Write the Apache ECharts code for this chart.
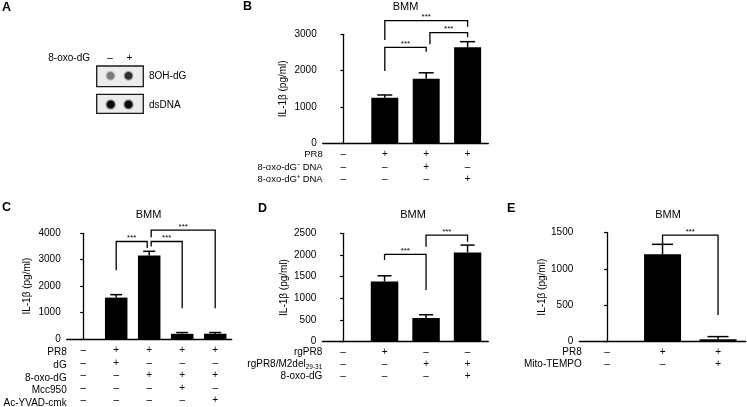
<!DOCTYPE html>
<html>
<head>
<meta charset="utf-8">
<script src="https://cdn.jsdelivr.net/npm/echarts@6/dist/echarts.min.js"></script>
<style>
  html, body { margin: 0; padding: 0; background: #fff; }
  #chart { width: 747px; height: 407px; }
</style>
</head>
<body>
<div id="chart"></div>
<script>
// panel B
const bGroups = ['1', '2', '3', '4']
const bRows = ['PR8', '8-oxo-dG⁻ DNA', '8-oxo-dG⁺ DNA']
const bSigns = [
  ['–', '+', '+', '+'],
  ['–', '–', '+', '–'],
  ['–', '–', '–', '+'],
]
const bMean = [0, 1255, 1778, 2642]
const bErr = [0, 75, 162, 155]
const bTicks = [0, 1000, 2000, 3000]
// [from, to, top, fromLow, toLow]
const bBrackets = [
  [1, 2, 2642, 1990, 2521],
  [2.09, 3, 3044, 2725, 2918],
  [1, 3, 3375, 2843, 3210],
]

// panel C
const cGroups = ['1', '2', '3', '4', '5']
const cRows = ['PR8', 'dG', '8-oxo-dG', 'Mcc950', 'Ac-YVAD-cmk']
const cSigns = [
  ['–', '+', '+', '+', '+'],
  ['–', '+', '–', '–', '–'],
  ['–', '–', '+', '+', '+'],
  ['–', '–', '–', '+', '–'],
  ['–', '–', '–', '–', '+'],
]
const cMean = [0, 1567, 3159, 196, 200]
const cErr = [0, 111, 160, 49, 45]
const cTicks = [0, 1000, 2000, 3000, 4000]
const cBrackets = [
  [1, 1.94, 3689, 2604, 3444],
  [2.06, 3, 3689, 3504, 1159],
  [2.06, 4, 4122, 3852, 1159],
]

// panel D
const dGroups = ['1', '2', '3', '4']
const dRows = ['rgPR8', '{t|rgPR8/M2del}{s|29-31}', '8-oxo-dG']
const dSigns = [
  ['–', '+', '–', '–'],
  ['–', '–', '+', '+'],
  ['–', '–', '–', '+'],
]
const dMean = [0, 1390, 546, 2060]
const dErr = [0, 130, 76, 168]
const dTicks = [0, 500, 1000, 1500, 2000, 2500]
const dBrackets = [
  [1, 2, 2014, 1882, 1191],
  [2, 3, 2459, 2189, 2304],
]

// panel E
const eGroups = ['1', '2', '3']
const eRows = ['PR8', 'Mito-TEMPO']
const eSigns = [
  ['–', '+', '+'],
  ['–', '–', '+'],
]
const eMean = [0, 1202, 33]
const eErr = [0, 138, 37]
const eTicks = [0, 500, 1000, 1500]
const eBrackets = [
  [1, 2, 1468, 1340, 367],
]

const FONT = '"Liberation Sans", Arial, Helvetica, sans-serif'
const INK = '#000'

const panels = [
  {
    groups: bGroups, rows: bRows, signs: bSigns, mean: bMean, err: bErr, ticks: bTicks, brackets: bBrackets,
    grid: { left: 322.7, top: 34.3, width: 165.6, height: 109 },
    barWidth: 27, capWidth: 15, lh: 12.4, rowFont: 9.5, nameGap: 34, title: [405.5, 7],
  },
  {
    groups: cGroups, rows: cRows, signs: cSigns, mean: cMean, err: cErr, ticks: cTicks, brackets: cBrackets,
    grid: { left: 66.7, top: 233.3, width: 165, height: 108 },
    barWidth: 22.5, capWidth: 12, lh: 12.6, rowFont: 10, nameGap: 34, title: [148.5, 215],
  },
  {
    groups: dGroups, rows: dRows, signs: dSigns, mean: dMean, err: dErr, ticks: dTicks, brackets: dBrackets,
    grid: { left: 322.3, top: 233.3, width: 166, height: 108.4 },
    barWidth: 27.5, capWidth: 14, lh: 11.8, rowFont: 10, nameGap: 33, title: [413, 215],
  },
  {
    groups: eGroups, rows: eRows, signs: eSigns, mean: eMean, err: eErr, ticks: eTicks, brackets: eBrackets,
    grid: { left: 579.3, top: 232.7, width: 166.5, height: 109 },
    barWidth: 37, capWidth: 21, lh: 12, rowFont: 10, nameGap: 29, title: [668, 215],
  },
]

const LABEL_MARGIN = 5

function errorBarRenderer(capWidth) {
  return (params, api) => {
    const m = api.value(1)
    const hi = api.value(2)
    if (!(hi > m)) return
    const p0 = api.coord([api.value(0), m])
    const p1 = api.coord([api.value(0), hi])
    const style = { stroke: INK, lineWidth: 1.5 }
    return {
      type: 'group',
      children: [
        { type: 'line', shape: { x1: p0[0], y1: p0[1], x2: p1[0], y2: p1[1] }, style },
        { type: 'line', shape: { x1: p1[0] - capWidth / 2, y1: p1[1], x2: p1[0] + capWidth / 2, y2: p1[1] }, style },
      ],
    }
  }
}

function bracketRenderer(params, api) {
  const a = api.coord([api.value(0), api.value(3)])
  const b = api.coord([api.value(0), api.value(2)])
  const c = api.coord([api.value(1), api.value(2)])
  const d = api.coord([api.value(1), api.value(4)])
  return {
    type: 'group',
    children: [
      {
        type: 'polyline',
        shape: { points: [a, b, c, d] },
        style: { stroke: INK, lineWidth: 1.3, fill: null },
      },
      {
        type: 'text',
        style: {
          x: (b[0] + c[0]) / 2, y: b[1] + 0.5,
          text: '***', fill: INK, fontSize: 8, fontFamily: FONT,
          align: 'center', verticalAlign: 'bottom',
        },
      },
    ],
  }
}

const grid = []
const xAxis = []
const yAxis = []
const series = []
const graphic = []

panels.forEach((p, i) => {
  grid.push(Object.assign({ containLabel: false }, p.grid))
  const n = p.groups.length
  const lo = p.ticks[0]
  const hi = p.ticks[p.ticks.length - 1]

  xAxis.push({
    type: 'category',
    gridIndex: i,
    data: p.groups,
    axisLine: { lineStyle: { color: INK, width: 1.3 } },
    axisTick: { alignWithLabel: true, length: 3, lineStyle: { color: INK, width: 1.2 } },
    axisLabel: {
      interval: 0,
      margin: LABEL_MARGIN,
      color: INK,
      fontSize: 10,
      fontFamily: FONT,
      lineHeight: p.lh,
      formatter: (v, idx) => p.signs.map(r => r[idx]).join('\n'),
    },
  })
  xAxis.push({ type: 'value', gridIndex: i, min: -0.5, max: n - 0.5, show: false })

  yAxis.push({
    type: 'value',
    gridIndex: i,
    min: lo,
    max: hi,
    interval: p.ticks[1] - p.ticks[0],
    name: 'IL-1β (pg/ml)',
    nameLocation: 'middle',
    nameGap: p.nameGap,
    nameTextStyle: { color: INK, fontSize: 10, fontFamily: FONT },
    axisLine: { show: true, lineStyle: { color: INK, width: 1.3 } },
    axisTick: { show: true, length: 3, lineStyle: { color: INK, width: 1.2 } },
    axisLabel: { color: INK, fontSize: 10, fontFamily: FONT, margin: 6, formatter: v => String(v) },
    splitLine: { show: false },
  })

  series.push({
    type: 'bar',
    xAxisIndex: 2 * i,
    yAxisIndex: i,
    data: p.mean,
    barWidth: p.barWidth,
    itemStyle: { color: INK },
    silent: true,
  })
  series.push({
    type: 'custom',
    xAxisIndex: 2 * i,
    yAxisIndex: i,
    data: p.mean.map((m, k) => [k, m, m + p.err[k]]),
    encode: { x: 0, y: [1, 2] },
    renderItem: errorBarRenderer(p.capWidth),
    z: 3,
    silent: true,
  })
  series.push({
    type: 'custom',
    xAxisIndex: 2 * i + 1,
    yAxisIndex: i,
    data: p.brackets,
    encode: { x: [0, 1], y: [2, 3, 4] },
    renderItem: bracketRenderer,
    clip: false,
    z: 4,
    silent: true,
  })

  // row names on the left of the +/- table
  const axisY = p.grid.top + p.grid.height
  p.rows.forEach((name, r) => {
    graphic.push({
      type: 'text',
      x: p.grid.left + (i === 3 ? 2.5 : 0),
      y: axisY + LABEL_MARGIN + (r + 0.5) * p.lh,
      style: {
        text: name,
        fill: INK,
        fontSize: p.rowFont,
        fontFamily: FONT,
        align: 'right',
        verticalAlign: 'middle',
        rich: {
          t: { fontSize: 10, fontFamily: FONT, fill: INK },
          s: { fontSize: 6.5, fontFamily: FONT, fill: INK, padding: [5, 0, 0, 0] },
        },
      },
    })
  })

  graphic.push({
    type: 'text',
    x: p.title[0],
    y: p.title[1],
    style: { text: 'BMM', fill: INK, fontSize: 11, fontFamily: FONT, align: 'center', verticalAlign: 'middle' },
  })
})

// panel letters
const letters = [['A', 2, 8], ['B', 243, 7], ['C', 2, 208], ['D', 258, 208.5], ['E', 507, 208.5]]
letters.forEach(([t, x, y]) => {
  graphic.push({
    type: 'text', x, y,
    style: { text: t, fill: INK, fontSize: 12.5, fontWeight: 'bold', fontFamily: FONT, verticalAlign: 'middle' },
  })
})

// panel A: dot blot
function dot(cx, cy, core, r) {
  return {
    type: 'circle',
    shape: { cx, cy, r },
    style: {
      fill: new echarts.graphic.RadialGradient(0.5, 0.5, 0.5, [
        { offset: 0, color: core },
        { offset: 0.55, color: core },
        { offset: 1, color: 'rgba(230,230,230,0)' },
      ]),
    },
  }
}
const blotBox = (y, h) => ({
  type: 'rect',
  shape: { x: 96.7, y, width: 46.6, height: h },
  style: { fill: '#ececec', stroke: '#1a1a1a', lineWidth: 1.3 },
})
const textA = (text, x, y, align) => ({
  type: 'text', x, y,
  style: { text, fill: INK, fontSize: 10, fontFamily: FONT, align: align || 'left', verticalAlign: 'middle' },
})
graphic.push(
  textA('8-oxo-dG', 48.3, 58),
  textA('–', 110, 58, 'center'),
  textA('+', 129.3, 58, 'center'),
  blotBox(66, 20.7),
  dot(110.5, 75.8, '#7a7a7a', 6),
  dot(128.5, 75.8, '#2e2e2e', 6),
  textA('8OH-dG', 149, 76),
  blotBox(94.3, 19),
  dot(110.7, 104.5, '#0a0a0a', 6.3),
  dot(128.5, 104.5, '#0a0a0a', 6.3),
  textA('dsDNA', 149, 105)
)

const chart = echarts.init(document.getElementById('chart'), null, { renderer: 'canvas' })
chart.setOption({
  animation: false,
  backgroundColor: '#fff',
  grid,
  xAxis,
  yAxis,
  series,
  graphic,
})
</script>
</body>
</html>
